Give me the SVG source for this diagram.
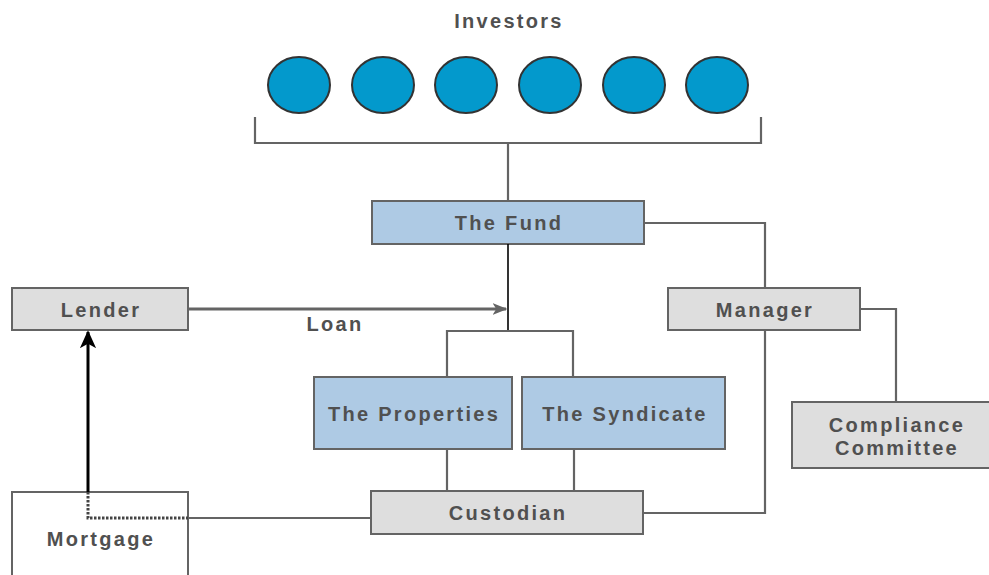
<svg xmlns="http://www.w3.org/2000/svg" width="989" height="575" viewBox="0 0 989 575">
  <style>
    .lbl { font-family: "Liberation Sans", Arial, sans-serif; font-weight: bold; font-size: 20px; letter-spacing: 2.3px; fill: #505050; text-anchor: middle; }
    .box { stroke: #646464; stroke-width: 2; }
    .grey { fill: #dedede; }
    .blue { fill: #aecae4; }
    .inv { fill: #0399cc; stroke: #333333; stroke-width: 2; }
    .wire { fill: none; stroke: #646464; stroke-width: 2.2; }
  </style>
  <defs>
    <marker id="arrGrey" viewBox="0 0 10 10" refX="9" refY="5" markerWidth="5" markerHeight="5" orient="auto" markerUnits="strokeWidth">
      <path d="M0,1 L10,5 L0,9 L2.5,5 Z" fill="#646464"/>
    </marker>
    <marker id="arrBlack" viewBox="0 0 10 10" refX="9" refY="5" markerWidth="6" markerHeight="6" orient="auto" markerUnits="strokeWidth">
      <path d="M0,0.5 L10,5 L0,9.5 L2.5,5 Z" fill="#000000"/>
    </marker>
  </defs>

  <g id="investors">
    <text class="lbl" x="509" y="28">Investors</text>
    <ellipse class="inv" cx="299" cy="85" rx="31" ry="28"/>
    <ellipse class="inv" cx="383" cy="85" rx="31" ry="28"/>
    <ellipse class="inv" cx="466" cy="85" rx="31" ry="28"/>
    <ellipse class="inv" cx="550" cy="85" rx="31" ry="28"/>
    <ellipse class="inv" cx="634" cy="85" rx="31" ry="28"/>
    <ellipse class="inv" cx="717" cy="85" rx="31" ry="28"/>
  </g>

  <g id="fund">
    <rect class="box blue" x="372" y="201" width="272" height="43"/>
    <text class="lbl" x="509" y="230">The Fund</text>
  </g>

  <g id="lender">
    <rect class="box grey" x="12" y="288" width="176" height="42"/>
    <text class="lbl" x="101" y="317">Lender</text>
  </g>

  <g id="manager">
    <rect class="box grey" x="668" y="288" width="192" height="42"/>
    <text class="lbl" x="765" y="317">Manager</text>
  </g>

  <g id="properties">
    <rect class="box blue" x="314" y="377" width="198" height="72"/>
    <text class="lbl" x="414" y="421">The Properties</text>
  </g>

  <g id="syndicate">
    <rect class="box blue" x="522" y="377" width="203" height="72"/>
    <text class="lbl" x="625" y="421">The Syndicate</text>
  </g>

  <g id="compliance">
    <rect class="box grey" x="792" y="402" width="210" height="66"/>
    <text class="lbl" x="897" y="432">Compliance</text>
    <text class="lbl" x="897" y="455">Committee</text>
  </g>

  <g id="custodian">
    <rect class="box grey" x="371" y="491" width="272" height="43"/>
    <text class="lbl" x="508" y="520">Custodian</text>
  </g>

  <g id="mortgage">
    <rect class="box" fill="#ffffff" x="12" y="492" width="176" height="100"/>
    <text class="lbl" x="101" y="546">Mortgage</text>
  </g>

  <!-- connectors, drawn over the boxes so the dotted mortgage link stays visible -->
  <g id="connectors">
    <path class="wire" d="M255,117 V143 H761 V117"/>
    <path class="wire" d="M508,143 V201"/>
    <path d="M508,244 V332" fill="none" stroke="#000" stroke-width="1.6"/>
    <path class="wire" d="M447,377 V331 H573 V377"/>
    <path class="wire" d="M447,449 V491"/>
    <path class="wire" d="M574,449 V491"/>
    <path class="wire" d="M644,223 H765 V288"/>
    <path class="wire" d="M765,330 V513 H643"/>
    <path class="wire" d="M860,309 H896 V402"/>
    <path class="wire" d="M189,518 H371"/>
    <path d="M188,309 H506" fill="none" stroke="#646464" stroke-width="3" marker-end="url(#arrGrey)"/>
    <path d="M88,492 V332" fill="none" stroke="#000" stroke-width="3" marker-end="url(#arrBlack)"/>
    <path d="M88,492 V518 H188" fill="none" stroke="#444" stroke-width="3" stroke-dasharray="2.5 1.5"/>
    <text class="lbl" x="335" y="331">Loan</text>
  </g>
</svg>
